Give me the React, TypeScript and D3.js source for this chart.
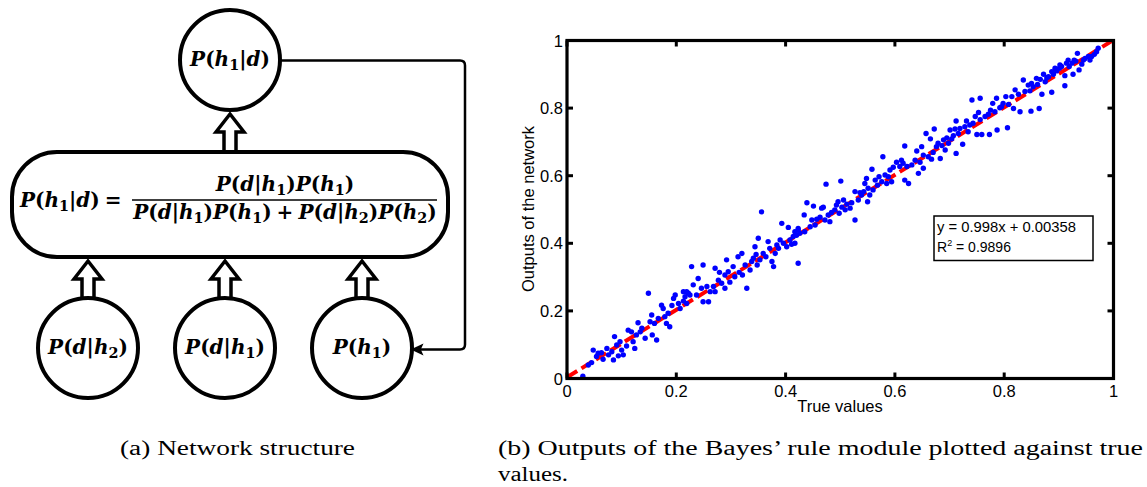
import React from 'react';
import * as d3 from 'd3';

// ---------- Data ----------
const trueValues = [
  0.029, 0.045, 0.039, 0.048, 0.054, 0.057, 0.063, 0.066, 0.073, 0.076, 0.082, 0.087, 0.085, 0.091, 0.094, 0.097, 0.100,
  0.103, 0.109, 0.112, 0.118, 0.121, 0.124, 0.127, 0.130, 0.134, 0.137, 0.143, 0.149, 0.152, 0.155, 0.156, 0.160, 0.164,
  0.167, 0.173, 0.176, 0.179, 0.182, 0.185, 0.188, 0.192, 0.195, 0.198, 0.204, 0.207, 0.213, 0.216, 0.222, 0.219,
  0.213, 0.219, 0.225, 0.231, 0.228, 0.240, 0.237, 0.246, 0.249, 0.249, 0.256, 0.259, 0.262, 0.268, 0.271, 0.271, 0.277,
  0.279, 0.283, 0.289, 0.292, 0.289, 0.295, 0.298, 0.304, 0.307, 0.313, 0.315, 0.320, 0.321, 0.326, 0.329, 0.335, 0.338,
  0.341, 0.344, 0.346, 0.348, 0.350, 0.353, 0.356, 0.359, 0.364, 0.368, 0.371, 0.375, 0.378, 0.381, 0.384, 0.387, 0.390,
  0.393, 0.396, 0.402, 0.405, 0.408, 0.411, 0.414, 0.417, 0.420, 0.423, 0.423,
  0.417, 0.423, 0.426, 0.435, 0.434, 0.439, 0.445, 0.448, 0.451, 0.454, 0.457, 0.463, 0.466, 0.469, 0.472, 0.474, 0.478,
  0.481, 0.484, 0.490, 0.493, 0.496, 0.498, 0.501, 0.503, 0.506, 0.509, 0.512, 0.518, 0.521, 0.527, 0.527, 0.533, 0.536,
  0.539, 0.543, 0.545, 0.548, 0.550, 0.551, 0.554, 0.558, 0.560, 0.564, 0.568, 0.571, 0.576, 0.578, 0.582, 0.585, 0.588,
  0.591, 0.594, 0.597, 0.603, 0.609, 0.612, 0.615, 0.618, 0.618, 0.622, 0.625,
  0.631, 0.637, 0.640, 0.643, 0.646, 0.649, 0.652, 0.652, 0.657, 0.661, 0.665, 0.667, 0.670, 0.672, 0.676, 0.679, 0.683,
  0.686, 0.689, 0.692, 0.695, 0.698, 0.701, 0.704, 0.707, 0.710, 0.712, 0.712, 0.716, 0.719, 0.724, 0.728, 0.731, 0.734,
  0.737, 0.741, 0.743, 0.747, 0.750, 0.753, 0.756, 0.756, 0.759, 0.765, 0.771, 0.773, 0.775, 0.779, 0.783, 0.786, 0.787,
  0.792, 0.795, 0.798, 0.803, 0.806, 0.808,
  0.814, 0.820, 0.817, 0.826, 0.829, 0.835, 0.838, 0.844, 0.847, 0.849, 0.850, 0.853, 0.859, 0.861, 0.864, 0.866, 0.869,
  0.872, 0.875, 0.878, 0.881, 0.887, 0.887, 0.890, 0.893, 0.896, 0.901, 0.902, 0.905, 0.911, 0.911, 0.914, 0.917, 0.919,
  0.924, 0.926, 0.928, 0.931, 0.934, 0.937, 0.942, 0.945, 0.948, 0.954, 0.957, 0.960, 0.965, 0.969, 0.972,
];
const networkOutputs = [
  0.007, 0.047, 0.040, 0.084, 0.065, 0.075, 0.076, 0.057, 0.089, 0.070, 0.079, 0.124, 0.055, 0.099, 0.067, 0.109, 0.084,
  0.070, 0.096, 0.143, 0.138, 0.109, 0.089, 0.129, 0.165, 0.138, 0.149, 0.119, 0.252, 0.168, 0.188, 0.129, 0.163, 0.114,
  0.178, 0.217, 0.207, 0.183, 0.163, 0.193, 0.153, 0.216, 0.237, 0.247, 0.222, 0.207, 0.257, 0.242, 0.252, 0.222,
  0.229, 0.257, 0.247, 0.277, 0.331, 0.296, 0.247, 0.267, 0.336, 0.227, 0.272, 0.227, 0.257, 0.272, 0.326, 0.257, 0.291,
  0.314, 0.282, 0.306, 0.351, 0.267, 0.316, 0.285, 0.331, 0.301, 0.360, 0.314, 0.370, 0.306, 0.336, 0.267, 0.321, 0.346,
  0.356, 0.390, 0.367, 0.336, 0.415, 0.351, 0.493, 0.370, 0.360, 0.405, 0.385, 0.346, 0.331, 0.370, 0.395, 0.385, 0.410,
  0.459, 0.400, 0.390, 0.447, 0.410, 0.397, 0.420, 0.400, 0.424, 0.341, 0.439,
  0.434, 0.444, 0.430, 0.434, 0.484, 0.520, 0.449, 0.469, 0.510, 0.454, 0.471, 0.477, 0.504, 0.507, 0.469, 0.575, 0.484,
  0.464, 0.491, 0.499, 0.513, 0.523, 0.489, 0.584, 0.507, 0.528, 0.499, 0.516, 0.504, 0.520, 0.469, 0.553, 0.528, 0.550,
  0.543, 0.553, 0.577, 0.592, 0.523, 0.563, 0.543, 0.619, 0.558, 0.587, 0.572, 0.597, 0.582, 0.656, 0.602, 0.577, 0.597,
  0.617, 0.582, 0.625, 0.640, 0.627, 0.646, 0.637, 0.688, 0.587, 0.627, 0.577,
  0.632, 0.646, 0.673, 0.607, 0.640, 0.686, 0.661, 0.622, 0.725, 0.656, 0.709, 0.649, 0.669, 0.738, 0.686, 0.696, 0.651,
  0.689, 0.706, 0.676, 0.712, 0.696, 0.735, 0.709, 0.718, 0.738, 0.762, 0.666, 0.725, 0.740, 0.693, 0.745, 0.762, 0.730,
  0.750, 0.824, 0.755, 0.775, 0.722, 0.787, 0.829, 0.766, 0.722, 0.775, 0.782, 0.722, 0.794, 0.814, 0.789, 0.829, 0.735,
  0.801, 0.804, 0.814, 0.834, 0.742, 0.811,
  0.834, 0.854, 0.799, 0.841, 0.789, 0.883, 0.849, 0.868, 0.851, 0.791, 0.873, 0.863, 0.888, 0.870, 0.799, 0.885, 0.841,
  0.900, 0.878, 0.890, 0.893, 0.847, 0.908, 0.900, 0.918, 0.910, 0.918, 0.928, 0.923, 0.866, 0.896, 0.933, 0.942, 0.923,
  0.933, 0.900, 0.942, 0.939, 0.962, 0.913, 0.930, 0.942, 0.947, 0.953, 0.942, 0.953, 0.959, 0.967, 0.977,
];
const axisTicks = [0, 0.2, 0.4, 0.6, 0.8, 1];
const tickLabels = ['0', '0.2', '0.4', '0.6', '0.8', '1'];
const fitSlope = 0.998;
const fitIntercept = 0.00358;
const fitEquation = 'y = 0.998x + 0.00358';
const rSquaredValue = '0.9896';
const xAxisTitle = 'True values';
const yAxisTitle = 'Outputs of the network';
const captionA = '(a) Network structure';
const captionB1 = '(b) Outputs of the Bayes\u2019 rule module plotted against true';
const captionB2 = 'values.';

// Diagram labels
const topNode = 'P(h1|d)';
const bottomNodes = ['P(d|h2)', 'P(d|h1)', 'P(h1)'];
const formulaLeft = 'P(h1|d) =';
const formulaNum = 'P(d|h1)P(h1)';
const formulaDen = 'P(d|h1)P(h1) + P(d|h2)P(h2)';

// ---------- helpers ----------
function MathText({ x, y, expr, size = 20, anchor = 'middle' }: any) {
  const parts: any[] = [];
  let shifted = 0;
  for (let i = 0; i < expr.length; i++) {
    const c = expr[i];
    if (/[0-9]/.test(c) && i > 0 && /[a-z]/.test(expr[i - 1])) {
      const dy = size * 0.22;
      parts.push(
        <tspan key={i} fontSize={size * 0.72} dy={dy} fontStyle="normal">
          {c}
        </tspan>
      );
      shifted = dy;
    } else {
      const italic = /[A-Za-z]/.test(c);
      parts.push(
        <tspan key={i} dy={shifted ? -shifted : undefined} fontStyle={italic ? 'italic' : 'normal'}>
          {c === ' ' ? '\u2005' : c}
        </tspan>
      );
      shifted = 0;
    }
  }
  return (
    <text x={x} y={y} textAnchor={anchor} fontFamily="'DejaVu Serif'" fontWeight="bold" fontSize={size} fill="#000">
      {parts}
    </text>
  );
}

function BlockArrow({ cx, tip, base }: any) {
  const hw = 14, sw = 6, hh = 18;
  const pts = [
    [cx, tip], [cx + hw, tip + hh], [cx + sw, tip + hh], [cx + sw, base],
    [cx - sw, base], [cx - sw, tip + hh], [cx - hw, tip + hh],
  ];
  return <polygon points={pts.map((p) => p.join(',')).join(' ')} fill="#fff" stroke="#000" strokeWidth={3.5} strokeLinejoin="miter" />;
}

export default function App() {
  const W = 1147, H = 487;
  const x = d3.scaleLinear().domain([0, 1]).range([567, 1113.5]);
  const y = d3.scaleLinear().domain([0, 1]).range([378.5, 40.5]);
  const fitLine = d3.line<number>().x((d) => x(d)).y((d) => y(fitSlope * d + fitIntercept));

  const topC = { cx: 230, cy: 60 };
  const botCs = [88, 225, 362].map((cx) => ({ cx, cy: 348 }));
  const R = 50;
  const sans = "'Liberation Sans', Arial, Helvetica, sans-serif";

  return (
    <svg width={W} height={H} style={{ position: 'absolute', left: 0, top: 0, background: '#fff' }}>
      <rect x={0} y={0} width={W} height={H} fill="#fff" />

      {/* ---------- Left: network diagram ---------- */}
      <path
        d="M280,60.5 H460 Q465,60.5 465,65.5 V344.5 Q465,349.5 460,349.5 H416"
        fill="none" stroke="#000" strokeWidth={2.5}
      />
      <polygon points="412.5,349.5 422,345 420,349.5 422,354" fill="#000" stroke="#000" strokeWidth={1.5} strokeLinejoin="miter" />

      <BlockArrow cx={230} tip={114} base={153} />
      {botCs.map((c, i) => (
        <BlockArrow key={i} cx={c.cx} tip={261} base={300} />
      ))}

      <rect x={12} y={152} width={436} height={105} rx={45} ry={45} fill="#fff" stroke="#000" strokeWidth={4} />
      <circle cx={topC.cx} cy={topC.cy} r={R} fill="#fff" stroke="#000" strokeWidth={4} />
      {botCs.map((c, i) => (
        <circle key={i} cx={c.cx} cy={c.cy} r={R} fill="#fff" stroke="#000" strokeWidth={4} />
      ))}

      <MathText x={topC.cx} y={66} expr={topNode} />
      {botCs.map((c, i) => (
        <MathText key={i} x={c.cx} y={354} expr={bottomNodes[i]} />
      ))}

      <MathText x={20} y={207} expr={formulaLeft} anchor="start" />
      <MathText x={285} y={191} expr={formulaNum} />
      <line x1={132} x2={437} y1={200} y2={200} stroke="#000" strokeWidth={1.5} />
      <MathText x={285} y={219} expr={formulaDen} />

      {/* ---------- Right: scatter plot ---------- */}
      <path d={fitLine([0, 1]) || ''} fill="none" stroke="#ff0000" strokeWidth={4} strokeDasharray="12,5" />
      {trueValues.map((tv, i) => (
        <circle key={i} cx={x(tv)} cy={y(networkOutputs[i])} r={2.7} fill="#0000ff" />
      ))}

      <rect x={x(0)} y={y(1)} width={x(1) - x(0)} height={y(0) - y(1)} fill="none" stroke="#000" strokeWidth={3.2} />
      {axisTicks.map((t, i) => (
        <g key={i}>
          <line x1={x(t)} x2={x(t)} y1={y(0)} y2={y(0) - 6} stroke="#000" strokeWidth={3} />
          <line x1={x(t)} x2={x(t)} y1={y(1)} y2={y(1) + 6} stroke="#000" strokeWidth={3} />
          <line x1={x(0)} x2={x(0) + 6} y1={y(t)} y2={y(t)} stroke="#000" strokeWidth={3} />
          <line x1={x(1)} x2={x(1) - 6} y1={y(t)} y2={y(t)} stroke="#000" strokeWidth={3} />
          <text x={x(t)} y={397} textAnchor="middle" fontFamily={sans} fontSize={16.5}>
            {tickLabels[i]}
          </text>
          <text x={563} y={y(t) + 6} textAnchor="end" fontFamily={sans} fontSize={16.5}>
            {tickLabels[i]}
          </text>
        </g>
      ))}
      <text x={840} y={412} textAnchor="middle" fontFamily={sans} fontSize={16.5}>
        {xAxisTitle}
      </text>
      <text transform="translate(534,209) rotate(-90)" textAnchor="middle" fontFamily={sans} fontSize={16.5}>
        {yAxisTitle}
      </text>

      <rect x={934} y={216} width={159} height={44.5} fill="#fff" stroke="#000" strokeWidth={1.5} />
      <text x={937} y={232} fontFamily={sans} fontSize={14} textLength={139} lengthAdjust="spacingAndGlyphs">
        {fitEquation}
      </text>
      <text x={937} y={252} fontFamily={sans} fontSize={14}>
        R<tspan dy={-6} fontSize={9}>2</tspan>
        <tspan dy={6}>{' = ' + rSquaredValue}</tspan>
      </text>

      {/* ---------- Captions ---------- */}
      <text x={120} y={455} fontFamily="'Liberation Serif', serif" fontSize={20} textLength={235} lengthAdjust="spacingAndGlyphs">
        {captionA}
      </text>
      <text x={498} y={455} fontFamily="'Liberation Serif', serif" fontSize={20} textLength={645} lengthAdjust="spacingAndGlyphs">
        {captionB1}
      </text>
      <text x={498} y={481} fontFamily="'Liberation Serif', serif" fontSize={20} textLength={70} lengthAdjust="spacingAndGlyphs">
        {captionB2}
      </text>
    </svg>
  );
}
